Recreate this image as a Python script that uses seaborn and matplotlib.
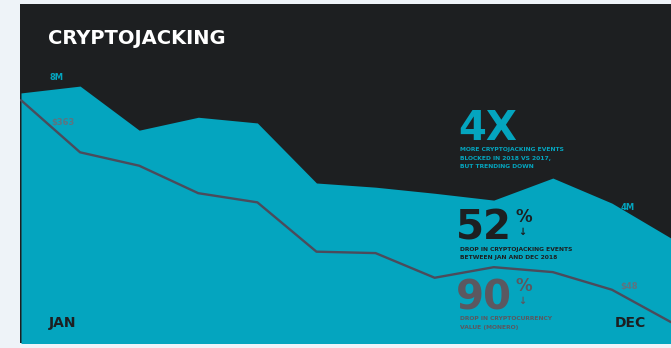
import numpy as np
import pandas as pd
import matplotlib
matplotlib.use('Agg')
import matplotlib.pyplot as plt
import seaborn as sns

sns.set_style('white')
plt.rcParams['font.family'] = ['DejaVu Sans']

# data
months = ['JAN', 'FEB', 'MAR', 'APR', 'MAY', 'JUN', 'JUL', 'AUG', 'SEP', 'OCT', 'NOV', 'DEC']
events_m = [7.82, 8.0, 6.84, 7.18, 7.03, 5.45, 5.34, 5.18, 5.0, 5.58, 4.92, 4.0]   # cryptojacking events, millions
monero_usd = [363, 289, 270, 231, 218, 148, 146, 111, 126, 119, 94, 48]            # Monero value, USD

df = pd.DataFrame({'month': np.arange(len(months)), 'events': events_m, 'monero': monero_usd})

TEAL = '#04a5bf'
DARK = '#1d1f21'
LINE = '#4b4b5b'
GREY = '#5b5860'

W, H = 671, 348
fig = plt.figure(figsize=(W / 100, H / 100), dpi=100)
fig.patch.set_facecolor('#eef3f8')


def px(x, y):
    return x / W, 1 - y / H


ax = fig.add_axes([20 / W, 5 / H, 651 / W, 339 / H])
ax.set_facecolor(DARK)
ax.set_xlim(-0.017, 11)
ax.set_ylim(1.24, 10.16)
ax.fill_between(df['month'], df['events'], 0, color=TEAL, lw=0)
ax.set_xticks([])
ax.set_yticks([])
for s in ax.spines.values():
    s.set_visible(False)

ax2 = ax.twinx()
sns.lineplot(data=df, x='month', y='monero', ax=ax2, color=LINE, lw=1.7)
ax2.set_ylim(18.4, 499.5)
ax2.set_xlim(-0.017, 11)
ax2.set_xticks([])
ax2.set_yticks([])
ax2.set_xlabel('')
ax2.set_ylabel('')
for s in ax2.spines.values():
    s.set_visible(False)

# title
fig.text(*px(48, 38), 'CRYPTOJACKING', color='white', fontsize=14, fontweight='heavy', va='center', ha='left')

# value labels
fig.text(*px(50, 77), '8M', color=TEAL, fontsize=6, fontweight='bold', va='center')
fig.text(*px(51, 123), '$363', color='#5d7480', fontsize=6, fontweight='bold', va='center')
fig.text(*px(621, 207), '4M', color=TEAL, fontsize=6, fontweight='bold', va='center')
fig.text(*px(620, 286), '$48', color='#5d7480', fontsize=6, fontweight='bold', va='center')
fig.text(*px(49, 323), 'JAN', color=DARK, fontsize=10, fontweight='bold', va='center')
fig.text(*px(615, 323), 'DEC', color=DARK, fontsize=10, fontweight='bold', va='center')

# callouts
fig.text(*px(458, 140), '4X', color=TEAL, fontsize=29, fontweight='bold', va='baseline')
for i, t in enumerate(['MORE CRYPTOJACKING EVENTS', 'BLOCKED IN 2018 VS 2017,', 'BUT TRENDING DOWN']):
    fig.text(*px(460, 150 + 8 * i), t, color=TEAL, fontsize=4.3, fontweight='bold', va='center')

fig.text(*px(456, 240), '52', color=DARK, fontsize=29, fontweight='bold', va='baseline')
fig.text(*px(515, 208), '%', color=DARK, fontsize=12, fontweight='bold', va='top')
fig.text(*px(518, 227), '\u2193', color=DARK, fontsize=7, fontweight='bold', va='top')
for i, t in enumerate(['DROP IN CRYPTOJACKING EVENTS', 'BETWEEN JAN AND DEC 2018']):
    fig.text(*px(460, 250 + 8 * i), t, color=DARK, fontsize=4.3, fontweight='bold', va='center')

fig.text(*px(456, 309), '90', color=GREY, fontsize=29, fontweight='bold', va='baseline')
fig.text(*px(515, 277), '%', color=GREY, fontsize=12, fontweight='bold', va='top')
fig.text(*px(518, 296), '\u2193', color=GREY, fontsize=7, fontweight='bold', va='top')
for i, t in enumerate(['DROP IN CRYPTOCURRENCY', 'VALUE (MONERO)']):
    fig.text(*px(460, 319 + 8 * i), t, color=GREY, fontsize=4.3, fontweight='bold', va='center')

fig.savefig('out.png', dpi=100, facecolor=fig.get_facecolor())
